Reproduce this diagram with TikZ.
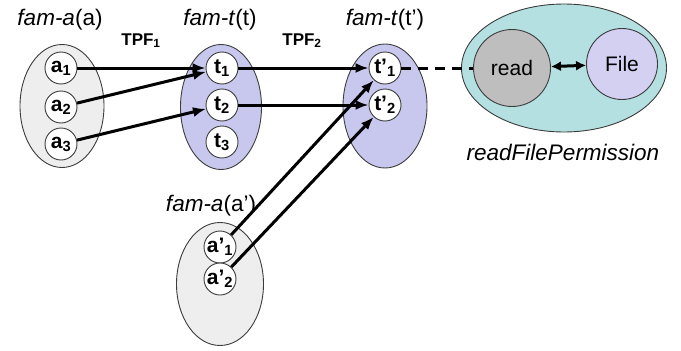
\documentclass[tikz,border=0pt]{standalone}
\usepackage{fontspec}
\setmainfont{Liberation Sans}
\usetikzlibrary{shapes.geometric,arrows.meta}
\definecolor{greyfill}{RGB}{238,238,238}
\definecolor{purplefill}{RGB}{200,200,238}
\definecolor{tealfill}{RGB}{180,224,226}
\definecolor{readfill}{RGB}{190,190,190}
\definecolor{filefill}{RGB}{212,208,242}
\definecolor{edgegrey}{RGB}{60,60,60}
\tikzset{
  famell/.style={ellipse, draw=edgegrey, line width=0.9pt, inner sep=0pt},
  elem/.style={circle, draw=edgegrey, fill=white, line width=0.9pt, minimum size=32pt, inner sep=0pt,
    font=\fontsize{21}{22}\selectfont\bfseries},
  famlabel/.style={font=\fontsize{22.5}{24}\selectfont, anchor=base},
  tpf/.style={font=\fontsize{17}{18}\selectfont\bfseries, anchor=base},
  conn/.style={line width=3pt, -{Latex[length=13pt,width=10pt]}},
}
\newcommand{\sub}[1]{\textsubscript{#1}}
\begin{document}
\begin{tikzpicture}[x=1pt,y=-1pt]
\useasboundingbox (0,0) rectangle (681,351);
% family ellipses
\node[famell, fill=greyfill, minimum width=84pt, minimum height=123pt] (fa) at (62,106) {};
\node[famell, fill=purplefill, minimum width=81pt, minimum height=125pt] (ft) at (221,107) {};
\node[famell, fill=purplefill, minimum width=84pt, minimum height=124pt] (ftp) at (385,106) {};
\node[famell, fill=greyfill, minimum width=87pt, minimum height=123pt] (fap) at (220,284) {};
\node[famell, fill=tealfill, minimum width=205pt, minimum height=128pt] (perm) at (564,68) {};
% elements
\node[elem] (a1) at (61,68) {a\sub{1}};
\node[elem] (a2) at (61,107) {a\sub{2}};
\node[elem] (a3) at (61,144) {a\sub{3}};
\node[elem] (t1) at (222,68) {t\sub{1}};
\node[elem] (t2) at (222,105) {t\sub{2}};
\node[elem] (t3) at (222,142) {t\sub{3}};
\node[elem] (tp1) at (385,68) {t’\sub{1}};
\node[elem] (tp2) at (385,105) {t’\sub{2}};
\node[elem] (ap1) at (220,247) {a’\sub{1}};
\node[elem] (ap2) at (220,279) {a’\sub{2}};
\node[circle, draw=edgegrey, fill=readfill, line width=0.9pt, minimum size=77pt, inner sep=0pt,
  font=\fontsize{21}{22}\selectfont] (read) at (512,68) {read};
\node[circle, draw=edgegrey, fill=filefill, line width=0.9pt, minimum size=71pt, inner sep=0pt,
  font=\fontsize{21}{22}\selectfont] (file) at (622,64) {File};
% labels
\node[famlabel] (lfa) at (60,25) {\textit{fam-a}(a)};
\node[famlabel] (lft) at (220,25) {\textit{fam-t}(t)};
\node[famlabel] (lftp) at (385,25) {\textit{fam-t}(t’)};
\node[famlabel] (lfap) at (211,211) {\textit{fam-a}(a’)};
\node[tpf] (tpf1) at (141,45) {TPF\sub{1}};
\node[tpf] (tpf2) at (302,45) {TPF\sub{2}};
\node[famlabel] (lperm) at (563,160) {\textit{readFilePermission}};
% connectors
\draw[conn] (a1) -- (t1);
\draw[conn] (a2) -- (t1);
\draw[conn] (a3) -- (t2);
\draw[conn] (t1) -- (tp1);
\draw[conn] (t2) -- (tp2);
\draw[conn] (ap1) -- (tp1);
\draw[conn] (ap2) -- (tp2);
\draw[line width=3pt, dash pattern=on 10pt off 7pt] (tp1) -- (read);
\draw[line width=3pt, {Latex[length=10pt,width=10pt]}-{Latex[length=10pt,width=10pt]}] (read) -- (file);
\end{tikzpicture}
\end{document}
